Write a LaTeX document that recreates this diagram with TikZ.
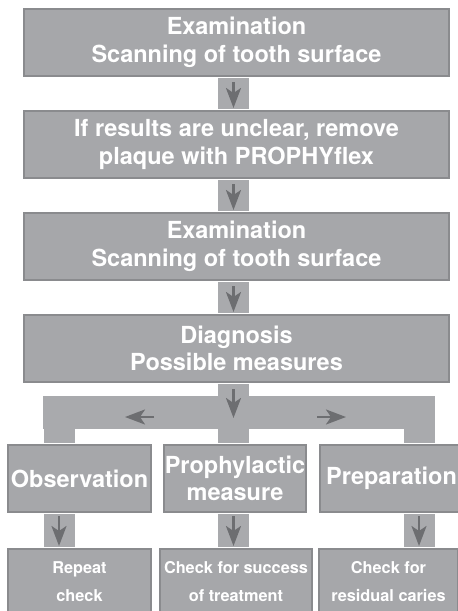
\documentclass[tikz,border=0pt]{standalone}
\usepackage{fontspec}
\setmainfont{TeX Gyre Heros}
\usetikzlibrary{arrows.meta}
\definecolor{boxfill}{HTML}{A6A7AA}
\definecolor{boxline}{HTML}{8A8B8E}
\definecolor{barfill}{HTML}{A9AAAD}
\definecolor{arrowcol}{HTML}{6D6E71}

\begin{document}
\begin{tikzpicture}[x=1pt,y=-1pt,
	box/.style={draw=boxline, line width=2pt, fill=boxfill, text=white, inner sep=0pt,
		align=center, font=\bfseries\fontsize{23.5}{27.5}\selectfont},
	small/.style={font=\bfseries\fontsize{16.3}{28}\selectfont},
	bar/.style={draw=barfill, line width=31pt, shorten <=1pt, shorten >=1pt},
	flow/.style={draw=arrowcol, line width=2.5pt, -{Stealth[length=20pt,width=15pt,inset=5pt]}}]
			\useasboundingbox (0,0) rectangle (458,611);
			\clip (0,0) rectangle (458,611);
			
			% main column
			\node[box, minimum width=425pt, minimum height=67pt] (exam1) at (236.5,42.5){Examination\\Scanning of tooth surface};
			\node[box, minimum width=425pt, minimum height=67pt] (plaque) at (236.5,144.5){If results are unclear, remove\\plaque with PROPHYflex};
			\node[box, minimum width=425pt, minimum height=67pt] (exam2) at (236.5,246.5){Examination\\Scanning of tooth surface};
			\node[box, minimum width=425pt, minimum height=67pt] (diag) at (236.5,348.5){Diagnosis\\Possible measures};
			
			% three measures
			\node[box, minimum width=143pt, minimum height=67pt] (obs) at (79.5,478.5){Observation};
			\node[box, minimum width=142pt, minimum height=67pt] (proph) at (235,478.5){Prophylactic\\measure};
			\node[box, minimum width=143pt, minimum height=67pt] (prep) at (391.5,478.5){Preparation};
			
			% checks
			\node[box, small, minimum width=143pt, minimum height=67pt] (repeat) at (79.5,582){Repeat\\check};
			\node[box, small, minimum width=152pt, minimum height=67pt] (success) at (236,582){Check for success\\of treatment};
			\node[box, small, minimum width=139pt, minimum height=67pt] (resid) at (388.5,582){Check for\\residual caries};
			
			\coordinate (lx) at (59,412.5);
			\coordinate (mx) at (233.5,412.5);
			\coordinate (rx) at (419,412.5);
			
			% bars
			\draw[bar] (exam1.south -| mx) -- (plaque.north -| mx);
			\draw[bar] (plaque.south -| mx) -- (exam2.north -| mx);
			\draw[bar] (exam2.south -| mx) -- (diag.north -| mx);
			\draw[bar, line width=33pt, shorten <=0pt, shorten >=0pt] ([xshift=-16pt]lx) -- ([xshift=16pt]rx);
			\draw[bar] (diag.south -| mx) -- (proph.north -| mx);
			\draw[bar, shorten <=0pt] ([yshift=16.5pt]lx) -- (obs.north -| lx);
			\draw[bar, shorten <=0pt] ([yshift=16.5pt]rx) -- (prep.north -| rx);
			\foreach \a/\b/\c in {obs/repeat/lx, proph/success/mx, prep/resid/rx}
				\draw[bar] (\a.south -| \c) -- (\b.north -| \c);
			
			% arrows
			\foreach \a/\b in {exam1/plaque, plaque/exam2, exam2/diag}
				\draw[flow] ([yshift=-5pt]\a.south -| mx) -- ([yshift=2pt]\b.north -| mx);
			\draw[flow] ([yshift=-6pt]diag.south -| mx) -- ([yshift=-5.5pt]mx);
			\coordinate (la) at (154,417);
			\coordinate (lt) at (125,417);
			\coordinate (ra) at (317,417);
			\coordinate (rt) at (346,417);
			\draw[flow] (la) -- (lt);
			\draw[flow] (ra) -- (rt);
			\foreach \a/\b/\c in {obs/repeat/lx, proph/success/mx, prep/resid/rx}
				\draw[flow] ([yshift=-3pt]\a.south -| \c) -- ([yshift=1.5pt]\b.north -| \c);
						
		\end{tikzpicture}
\end{document}
